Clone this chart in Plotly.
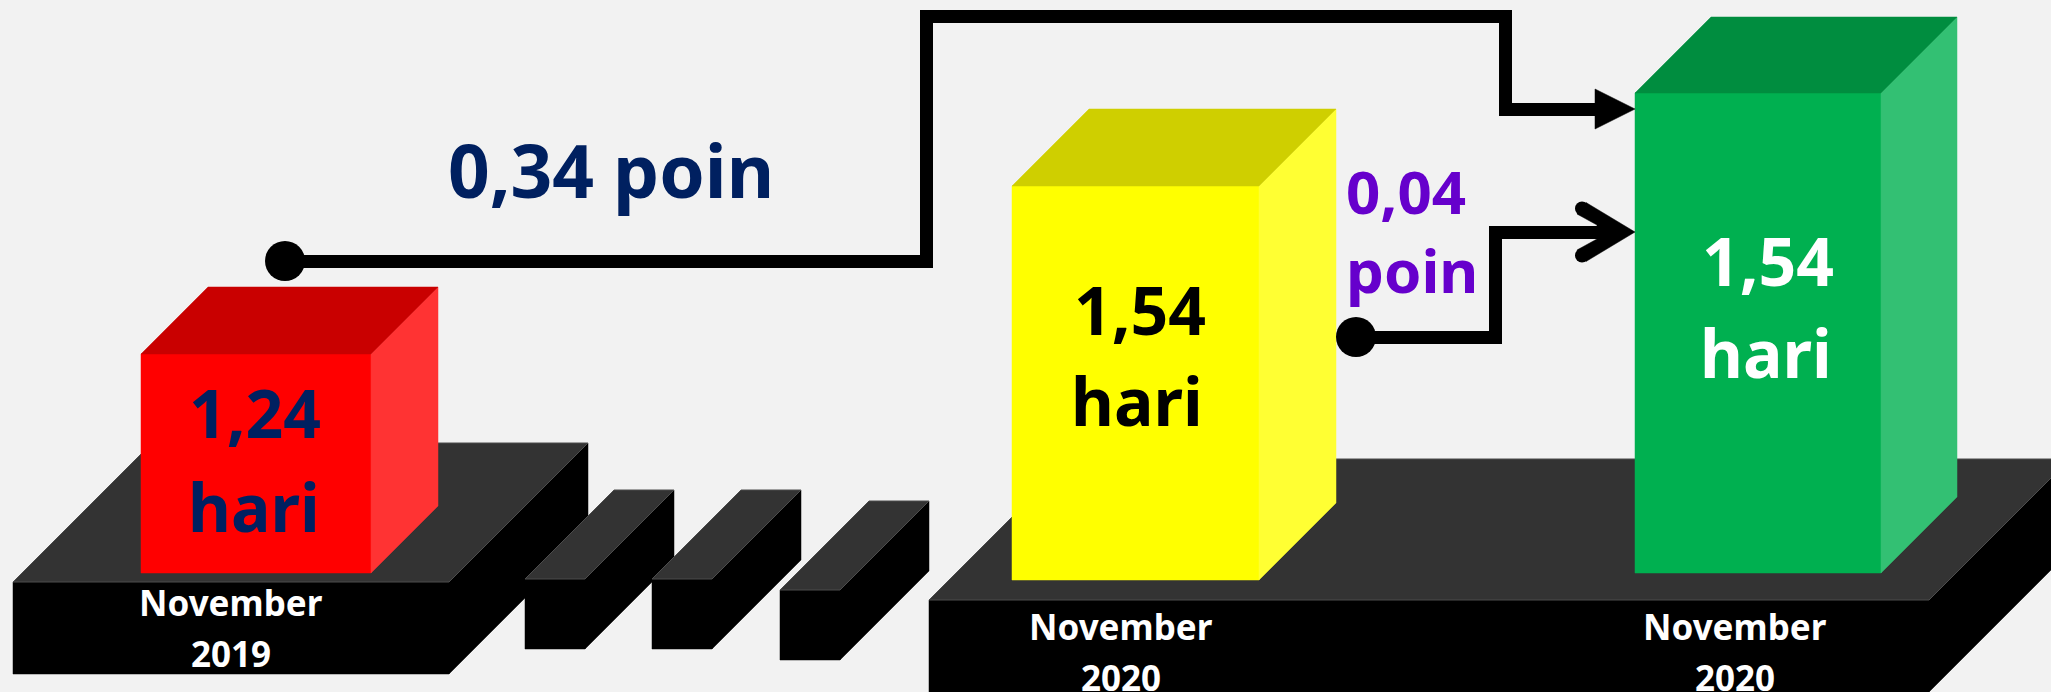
import plotly.graph_objects as go

WIDTH = 2051
HEIGHT = 692

# Values shown in the picture
day_values = ['1,24', '1,54', '1,54']
day_unit = 'hari'
period_months = ['November', 'November', 'November']
period_years = ['2019', '2020', '2020']
gap_labels = ['0,34 poin', '0,04', 'poin']

BG = '#f2f2f2'

# Box geometry in canvas pixels: left, right, top, bottom, depth
PLINTHS = [
    (13, 449, 582, 674, 139),
    (525, 585, 579, 649, 89),
    (652, 712, 579, 649, 89),
    (780, 840, 590, 660, 89),
    (929, 1929, 600, 692, 141),
]
BARS = [
    (141, 371, 354, 573, 67, ('#ff0000', '#c90000', '#ff3333')),
    (1012, 1259, 186, 580, 77, ('#ffff00', '#cfcf00', '#ffff33')),
    (1635, 1881, 93, 573, 76, ('#00b050', '#008d3f', '#33c073')),
]

fig = go.Figure()


def add_poly(xs, ys, color, edge=None):
    fig.add_trace(go.Scatter(
        x=xs + xs[:1],
        y=ys + ys[:1],
        mode='lines',
        fill='toself',
        fillcolor=color,
        line=dict(color=edge or color, width=1 if edge else 0.5),
        hoverinfo='skip',
        showlegend=False,
    ))


def add_box(left, right, top, bottom, depth, colors, edge=None):
    front, upper, side = colors
    add_poly([left, right, right, left], [top, top, bottom, bottom], front)
    add_poly([right, right + depth, right + depth, right],
             [top, top - depth, bottom - depth, bottom], side)
    add_poly([left, right, right + depth, left + depth],
             [top, top, top - depth, top - depth], upper, edge)


def add_elbow(xs, ys, width=13):
    # each leg is its own rectangle so the corners stay square
    half = width / 2
    for i in range(len(xs) - 1):
        x0, x1 = sorted(xs[i:i + 2])
        y0, y1 = sorted(ys[i:i + 2])
        fig.add_shape(type='rect', x0=x0 - half, x1=x1 + half,
                      y0=y0 - half, y1=y1 + half,
                      fillcolor='black', line_width=0)


def add_dots(xs, ys, size):
    fig.add_trace(go.Scatter(
        x=xs, y=ys, mode='markers',
        marker=dict(color='black', size=size, line=dict(width=0)),
        hoverinfo='skip', showlegend=False,
    ))


def add_text(x, y, text, size, color):
    fig.add_annotation(
        x=x, y=y, text=text, showarrow=False,
        xanchor='center', yanchor='middle',
        font=dict(family='Noto Sans', size=size, color=color, weight='bold'),
    )


# Plinths, then the bars standing on them
dark = ('#000000', '#333333', '#000000')
add_box(*PLINTHS[0], dark, '#4d4d4d')
add_box(*BARS[0][:5], BARS[0][5])
for plinth in PLINTHS[1:]:
    add_box(*plinth, dark, '#4d4d4d')
add_box(*BARS[1][:5], BARS[1][5])
add_box(*BARS[2][:5], BARS[2][5])

# Connector from the 2019 bar to the green bar
add_elbow([285.5, 926.5, 926.5, 1505.5, 1505.5, 1600.5], [261.5, 261.5, 16.5, 16.5, 109.5, 109.5])
add_poly([1595, 1635, 1595], [89, 109, 129], 'black')

# Connector from the yellow bar to the green bar
add_elbow([1356.5, 1495.5, 1495.5, 1610.5], [337.5, 337.5, 232.5, 232.5])
add_poly([1577, 1586, 1635, 1586, 1577, 1597, 1597],
         [214, 202.5, 232, 261.5, 250, 239, 225], 'black')
add_dots([285, 1356], [261, 337], 40)
add_dots([1582, 1582], [208.5, 255.5], 14)

# Labels on the bars
text_colors = ['#002060', 'black', 'white']
value_pos = [(255, 412), (1140, 309), (1768, 260)]
unit_pos = [(254, 506), (1137, 400), (1766, 352)]
for i in range(3):
    add_text(*value_pos[i], day_values[i], 66, text_colors[i])
    add_text(*unit_pos[i], day_unit, 66, text_colors[i])

# Period labels on the plinths
month_pos = [(231, 602), (1121, 626), (1735, 626)]
year_pos = [(231, 653), (1121, 677), (1735, 677)]
for i in range(3):
    add_text(*month_pos[i], period_months[i], 35, 'white')
    add_text(*year_pos[i], period_years[i], 35, 'white')

# Gap labels
add_text(611, 169, gap_labels[0], 73, '#002060')
add_text(1406, 191, gap_labels[1], 60, '#6600cc')
add_text(1412, 270, gap_labels[2], 60, '#6600cc')

fig.update_xaxes(range=[0, WIDTH], visible=False, fixedrange=True)
fig.update_yaxes(range=[HEIGHT, 0], visible=False, fixedrange=True)
fig.update_layout(
    width=WIDTH,
    height=HEIGHT,
    margin=dict(l=0, r=0, t=0, b=0),
    plot_bgcolor=BG,
    paper_bgcolor=BG,
    showlegend=False,
)

fig.write_html(
    'out.html',
    config={'displayModeBar': False},
    post_script="document.body.style.margin='0';document.body.style.overflow='hidden';",
)
